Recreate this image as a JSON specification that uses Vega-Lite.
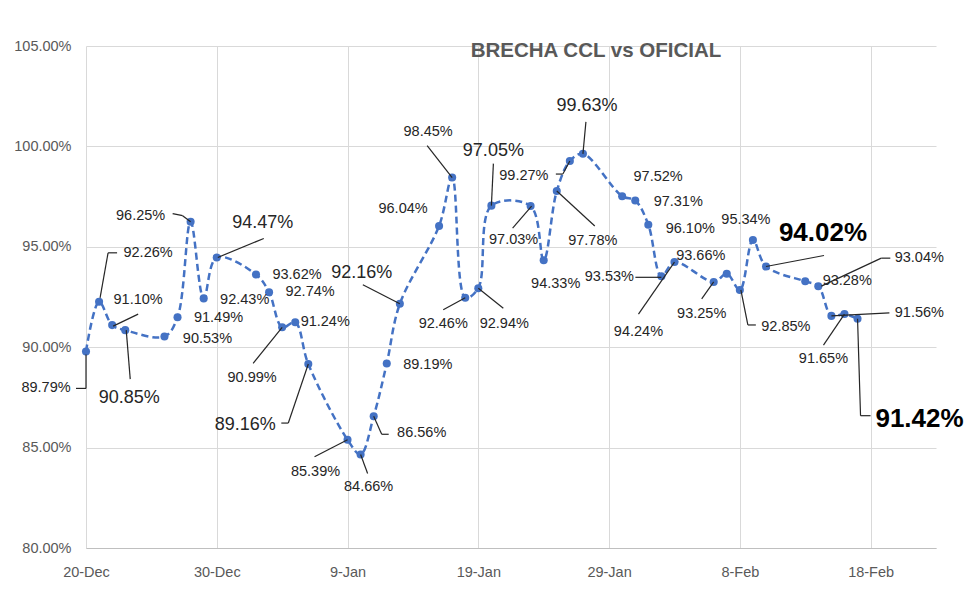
{
  "$schema": "https://vega.github.io/schema/vega-lite/v6.json",
  "width": 850,
  "height": 502,
  "autosize": "none",
  "padding": {"left": 86, "top": 46, "right": 44, "bottom": 49},
  "background": "white",
  "title": {"text": "BRECHA CCL vs OFICIAL", "anchor": "middle", "frame": "group", "dx": 85, "offset": -33, "baseline": "middle", "font": "Liberation Sans", "fontSize": 20.5, "fontWeight": "bold", "color": "#595959"},
  "data": {"values": [
    {"d": "2022-12-20", "v": 0.8979},
    {"d": "2022-12-21", "v": 0.9226},
    {"d": "2022-12-22", "v": 0.9110},
    {"d": "2022-12-23", "v": 0.9085},
    {"d": "2022-12-26", "v": 0.9053},
    {"d": "2022-12-27", "v": 0.9149},
    {"d": "2022-12-28", "v": 0.9625},
    {"d": "2022-12-29", "v": 0.9243},
    {"d": "2022-12-30", "v": 0.9447},
    {"d": "2023-01-02", "v": 0.9362},
    {"d": "2023-01-03", "v": 0.9274},
    {"d": "2023-01-04", "v": 0.9099},
    {"d": "2023-01-05", "v": 0.9124},
    {"d": "2023-01-06", "v": 0.8916},
    {"d": "2023-01-09", "v": 0.8539},
    {"d": "2023-01-10", "v": 0.8466},
    {"d": "2023-01-11", "v": 0.8656},
    {"d": "2023-01-12", "v": 0.8919},
    {"d": "2023-01-13", "v": 0.9216},
    {"d": "2023-01-16", "v": 0.9604},
    {"d": "2023-01-17", "v": 0.9845},
    {"d": "2023-01-18", "v": 0.9246},
    {"d": "2023-01-19", "v": 0.9294},
    {"d": "2023-01-20", "v": 0.9705},
    {"d": "2023-01-23", "v": 0.9703},
    {"d": "2023-01-24", "v": 0.9433},
    {"d": "2023-01-25", "v": 0.9778},
    {"d": "2023-01-26", "v": 0.9927},
    {"d": "2023-01-27", "v": 0.9963},
    {"d": "2023-01-30", "v": 0.9752},
    {"d": "2023-01-31", "v": 0.9731},
    {"d": "2023-02-01", "v": 0.9610},
    {"d": "2023-02-02", "v": 0.9353},
    {"d": "2023-02-03", "v": 0.9424},
    {"d": "2023-02-06", "v": 0.9325},
    {"d": "2023-02-07", "v": 0.9366},
    {"d": "2023-02-08", "v": 0.9285},
    {"d": "2023-02-09", "v": 0.9534},
    {"d": "2023-02-10", "v": 0.9402},
    {"d": "2023-02-13", "v": 0.9328},
    {"d": "2023-02-14", "v": 0.9304},
    {"d": "2023-02-15", "v": 0.9156},
    {"d": "2023-02-16", "v": 0.9165},
    {"d": "2023-02-17", "v": 0.9142}
  ]},
  "encoding": {
    "x": {"field": "d", "type": "temporal",
      "scale": {"type": "utc", "domain": [{"year": 2022, "month": 12, "date": 20, "utc": true}, {"year": 2023, "month": 2, "date": 23, "utc": true}]},
      "axis": {"title": null, "format": "%-d-%b", "labelFlush": false, "labelOverlap": false,
        "values": [{"year": 2022, "month": 12, "date": 20, "utc": true}, {"year": 2022, "month": 12, "date": 30, "utc": true}, {"year": 2023, "month": 1, "date": 9, "utc": true}, {"year": 2023, "month": 1, "date": 19, "utc": true}, {"year": 2023, "month": 1, "date": 29, "utc": true}, {"year": 2023, "month": 2, "date": 8, "utc": true}, {"year": 2023, "month": 2, "date": 18, "utc": true}],
        "grid": true, "ticks": false, "domainColor": "#bfbfbf", "labelPadding": 17}},
    "y": {"field": "v", "type": "quantitative",
      "scale": {"domain": [0.8, 1.05], "nice": false, "zero": false},
      "axis": {"title": null, "format": ".2%", "values": [0.8, 0.85, 0.9, 0.95, 1.0, 1.05], "domain": false, "ticks": false, "labelPadding": 15}}
  },
  "layer": [
    {"mark": {"type": "line", "interpolate": "catmull-rom", "color": "#4472C4", "strokeWidth": 2.5, "strokeDash": [7, 4]}},
    {"mark": {"type": "circle", "size": 65, "color": "#4472C4", "opacity": 1}},
    {"transform": [{"filter": "datum.v==0.8979"}], "layer": [
      {"mark": {"type": "text", "dx": -40, "dy": 37}, "encoding": {"text": {"field": "v", "format": ".2%"}}},
      {"mark": {"type": "rule", "xOffset": 0, "yOffset": 3, "x2Offset": 0, "y2Offset": 37}, "encoding": {"x2": {"field": "d"}, "y2": {"field": "v"}}},
      {"mark": {"type": "rule", "xOffset": 0, "yOffset": 37, "x2Offset": -10, "y2Offset": 37}, "encoding": {"x2": {"field": "d"}, "y2": {"field": "v"}}}
    ]},
    {"transform": [{"filter": "datum.v==0.9226"}], "layer": [
      {"mark": {"type": "text", "dx": 49, "dy": -49}, "encoding": {"text": {"field": "v", "format": ".2%"}}},
      {"mark": {"type": "rule", "xOffset": 1, "yOffset": -4, "x2Offset": 9, "y2Offset": -49}, "encoding": {"x2": {"field": "d"}, "y2": {"field": "v"}}},
      {"mark": {"type": "rule", "xOffset": 9, "yOffset": -49, "x2Offset": 18, "y2Offset": -49}, "encoding": {"x2": {"field": "d"}, "y2": {"field": "v"}}}
    ]},
    {"transform": [{"filter": "datum.v==0.9110"}], "layer": [
      {"mark": {"type": "text", "dx": 26, "dy": -25}, "encoding": {"text": {"field": "v", "format": ".2%"}}},
      {"mark": {"type": "rule", "xOffset": 1, "yOffset": 1, "x2Offset": 26, "y2Offset": -11}, "encoding": {"x2": {"field": "d"}, "y2": {"field": "v"}}}
    ]},
    {"transform": [{"filter": "datum.v==0.9085"}], "layer": [
      {"mark": {"type": "text", "dx": 4, "dy": 68, "fontSize": 18}, "encoding": {"text": {"field": "v", "format": ".2%"}}},
      {"mark": {"type": "rule", "xOffset": 1, "yOffset": 0, "x2Offset": 5, "y2Offset": 49}, "encoding": {"x2": {"field": "d"}, "y2": {"field": "v"}}}
    ]},
    {"transform": [{"filter": "datum.v==0.9053"}], "mark": {"type": "text", "dx": 43, "dy": 2}, "encoding": {"text": {"field": "v", "format": ".2%"}}},
    {"transform": [{"filter": "datum.v==0.9149"}], "mark": {"type": "text", "dx": 41, "dy": 1}, "encoding": {"text": {"field": "v", "format": ".2%"}}},
    {"transform": [{"filter": "datum.v==0.9625"}], "layer": [
      {"mark": {"type": "text", "dx": -50, "dy": -6}, "encoding": {"text": {"field": "v", "format": ".2%"}}},
      {"mark": {"type": "rule", "xOffset": -18, "yOffset": -8, "x2Offset": -8, "y2Offset": -6}, "encoding": {"x2": {"field": "d"}, "y2": {"field": "v"}}},
      {"mark": {"type": "rule", "xOffset": -8, "yOffset": -6, "x2Offset": 0, "y2Offset": 0}, "encoding": {"x2": {"field": "d"}, "y2": {"field": "v"}}}
    ]},
    {"transform": [{"filter": "datum.v==0.9243"}], "mark": {"type": "text", "dx": 41, "dy": 2}, "encoding": {"text": {"field": "v", "format": ".2%"}}},
    {"transform": [{"filter": "datum.v==0.9447"}], "layer": [
      {"mark": {"type": "text", "dx": 46, "dy": -34, "fontSize": 18}, "encoding": {"text": {"field": "v", "format": ".2%"}}},
      {"mark": {"type": "rule", "xOffset": 1, "yOffset": 0, "x2Offset": 47, "y2Offset": -19}, "encoding": {"x2": {"field": "d"}, "y2": {"field": "v"}}}
    ]},
    {"transform": [{"filter": "datum.v==0.9362"}], "mark": {"type": "text", "dx": 41, "dy": 0}, "encoding": {"text": {"field": "v", "format": ".2%"}}},
    {"transform": [{"filter": "datum.v==0.9274"}], "mark": {"type": "text", "dx": 41, "dy": 0}, "encoding": {"text": {"field": "v", "format": ".2%"}}},
    {"transform": [{"filter": "datum.v==0.9099"}], "layer": [
      {"mark": {"type": "text", "dx": -30, "dy": 51}, "encoding": {"text": {"field": "v", "format": ".2%"}}},
      {"mark": {"type": "rule", "xOffset": -29, "yOffset": 36, "x2Offset": 0, "y2Offset": 0}, "encoding": {"x2": {"field": "d"}, "y2": {"field": "v"}}}
    ]},
    {"transform": [{"filter": "datum.v==0.9124"}], "mark": {"type": "text", "dx": 30, "dy": 0}, "encoding": {"text": {"field": "v", "format": ".2%"}}},
    {"transform": [{"filter": "datum.v==0.8916"}], "layer": [
      {"mark": {"type": "text", "dx": -63, "dy": 61, "fontSize": 18}, "encoding": {"text": {"field": "v", "format": ".2%"}}},
      {"mark": {"type": "rule", "xOffset": -27, "yOffset": 59, "x2Offset": -20, "y2Offset": 59}, "encoding": {"x2": {"field": "d"}, "y2": {"field": "v"}}},
      {"mark": {"type": "rule", "xOffset": -20, "yOffset": 59, "x2Offset": 0, "y2Offset": 0}, "encoding": {"x2": {"field": "d"}, "y2": {"field": "v"}}}
    ]},
    {"transform": [{"filter": "datum.v==0.8539"}], "layer": [
      {"mark": {"type": "text", "dx": -32, "dy": 32}, "encoding": {"text": {"field": "v", "format": ".2%"}}},
      {"mark": {"type": "rule", "xOffset": -33, "yOffset": 17, "x2Offset": 0, "y2Offset": 0}, "encoding": {"x2": {"field": "d"}, "y2": {"field": "v"}}}
    ]},
    {"transform": [{"filter": "datum.v==0.8466"}], "layer": [
      {"mark": {"type": "text", "dx": 8, "dy": 33}, "encoding": {"text": {"field": "v", "format": ".2%"}}},
      {"mark": {"type": "rule", "xOffset": 0, "yOffset": 0, "x2Offset": 7, "y2Offset": 19}, "encoding": {"x2": {"field": "d"}, "y2": {"field": "v"}}}
    ]},
    {"transform": [{"filter": "datum.v==0.8656"}], "layer": [
      {"mark": {"type": "text", "dx": 48, "dy": 17}, "encoding": {"text": {"field": "v", "format": ".2%"}}},
      {"mark": {"type": "rule", "xOffset": 0, "yOffset": 0, "x2Offset": 8, "y2Offset": 18}, "encoding": {"x2": {"field": "d"}, "y2": {"field": "v"}}},
      {"mark": {"type": "rule", "xOffset": 8, "yOffset": 18, "x2Offset": 15, "y2Offset": 18}, "encoding": {"x2": {"field": "d"}, "y2": {"field": "v"}}}
    ]},
    {"transform": [{"filter": "datum.v==0.8919"}], "mark": {"type": "text", "dx": 41, "dy": 2}, "encoding": {"text": {"field": "v", "format": ".2%"}}},
    {"transform": [{"filter": "datum.v==0.9216"}], "layer": [
      {"mark": {"type": "text", "dx": -38, "dy": -31, "fontSize": 18}, "encoding": {"text": {"field": "v", "format": ".2%"}}},
      {"mark": {"type": "rule", "xOffset": -37, "yOffset": -19, "x2Offset": 0, "y2Offset": 0}, "encoding": {"x2": {"field": "d"}, "y2": {"field": "v"}}}
    ]},
    {"transform": [{"filter": "datum.v==0.9604"}], "mark": {"type": "text", "dx": -36, "dy": -17}, "encoding": {"text": {"field": "v", "format": ".2%"}}},
    {"transform": [{"filter": "datum.v==0.9845"}], "layer": [
      {"mark": {"type": "text", "dx": -24, "dy": -46}, "encoding": {"text": {"field": "v", "format": ".2%"}}},
      {"mark": {"type": "rule", "xOffset": -25, "yOffset": -32, "x2Offset": 0, "y2Offset": 0}, "encoding": {"x2": {"field": "d"}, "y2": {"field": "v"}}}
    ]},
    {"transform": [{"filter": "datum.v==0.9246"}], "layer": [
      {"mark": {"type": "text", "dx": -22, "dy": 26}, "encoding": {"text": {"field": "v", "format": ".2%"}}},
      {"mark": {"type": "rule", "xOffset": -22, "yOffset": 12, "x2Offset": 0, "y2Offset": 0}, "encoding": {"x2": {"field": "d"}, "y2": {"field": "v"}}}
    ]},
    {"transform": [{"filter": "datum.v==0.9294"}], "layer": [
      {"mark": {"type": "text", "dx": 26, "dy": 36}, "encoding": {"text": {"field": "v", "format": ".2%"}}},
      {"mark": {"type": "rule", "xOffset": 0, "yOffset": 0, "x2Offset": 25, "y2Offset": 20}, "encoding": {"x2": {"field": "d"}, "y2": {"field": "v"}}}
    ]},
    {"transform": [{"filter": "datum.v==0.9705"}], "layer": [
      {"mark": {"type": "text", "dx": 2, "dy": -55, "fontSize": 18}, "encoding": {"text": {"field": "v", "format": ".2%"}}},
      {"mark": {"type": "rule", "xOffset": 2, "yOffset": -42, "x2Offset": 0, "y2Offset": 0}, "encoding": {"x2": {"field": "d"}, "y2": {"field": "v"}}}
    ]},
    {"transform": [{"filter": "datum.v==0.9703"}], "layer": [
      {"mark": {"type": "text", "dx": -17, "dy": 34}, "encoding": {"text": {"field": "v", "format": ".2%"}}},
      {"mark": {"type": "rule", "xOffset": -18, "yOffset": 22, "x2Offset": 1, "y2Offset": 0}, "encoding": {"x2": {"field": "d"}, "y2": {"field": "v"}}}
    ]},
    {"transform": [{"filter": "datum.v==0.9433"}], "mark": {"type": "text", "dx": 12, "dy": 24}, "encoding": {"text": {"field": "v", "format": ".2%"}}},
    {"transform": [{"filter": "datum.v==0.9778"}], "layer": [
      {"mark": {"type": "text", "dx": 36, "dy": 50}, "encoding": {"text": {"field": "v", "format": ".2%"}}},
      {"mark": {"type": "rule", "xOffset": 0, "yOffset": 0, "x2Offset": 38, "y2Offset": 35}, "encoding": {"x2": {"field": "d"}, "y2": {"field": "v"}}}
    ]},
    {"transform": [{"filter": "datum.v==0.9927"}], "layer": [
      {"mark": {"type": "text", "dx": -46, "dy": 15}, "encoding": {"text": {"field": "v", "format": ".2%"}}},
      {"mark": {"type": "rule", "xOffset": -14, "yOffset": 13, "x2Offset": -7, "y2Offset": 13}, "encoding": {"x2": {"field": "d"}, "y2": {"field": "v"}}},
      {"mark": {"type": "rule", "xOffset": -7, "yOffset": 13, "x2Offset": 0, "y2Offset": 0}, "encoding": {"x2": {"field": "d"}, "y2": {"field": "v"}}}
    ]},
    {"transform": [{"filter": "datum.v==0.9963"}], "layer": [
      {"mark": {"type": "text", "dx": 4, "dy": -48, "fontSize": 18}, "encoding": {"text": {"field": "v", "format": ".2%"}}},
      {"mark": {"type": "rule", "xOffset": 3, "yOffset": -32, "x2Offset": 0, "y2Offset": 0}, "encoding": {"x2": {"field": "d"}, "y2": {"field": "v"}}}
    ]},
    {"transform": [{"filter": "datum.v==0.9752"}], "mark": {"type": "text", "dx": 36, "dy": -19}, "encoding": {"text": {"field": "v", "format": ".2%"}}},
    {"transform": [{"filter": "datum.v==0.9731"}], "mark": {"type": "text", "dx": 43, "dy": 2}, "encoding": {"text": {"field": "v", "format": ".2%"}}},
    {"transform": [{"filter": "datum.v==0.9610"}], "mark": {"type": "text", "dx": 42, "dy": 4}, "encoding": {"text": {"field": "v", "format": ".2%"}}},
    {"transform": [{"filter": "datum.v==0.9353"}], "layer": [
      {"mark": {"type": "text", "dx": -52, "dy": 1}, "encoding": {"text": {"field": "v", "format": ".2%"}}},
      {"mark": {"type": "rule", "xOffset": -26, "yOffset": 1, "x2Offset": 0, "y2Offset": 1}, "encoding": {"x2": {"field": "d"}, "y2": {"field": "v"}}}
    ]},
    {"transform": [{"filter": "datum.v==0.9424"}], "layer": [
      {"mark": {"type": "text", "dx": -36, "dy": 70}, "encoding": {"text": {"field": "v", "format": ".2%"}}},
      {"mark": {"type": "rule", "xOffset": -36, "yOffset": 52, "x2Offset": 0, "y2Offset": 0}, "encoding": {"x2": {"field": "d"}, "y2": {"field": "v"}}}
    ]},
    {"transform": [{"filter": "datum.v==0.9325"}], "layer": [
      {"mark": {"type": "text", "dx": -12, "dy": 32}, "encoding": {"text": {"field": "v", "format": ".2%"}}},
      {"mark": {"type": "rule", "xOffset": -12, "yOffset": 17, "x2Offset": 0, "y2Offset": 0}, "encoding": {"x2": {"field": "d"}, "y2": {"field": "v"}}}
    ]},
    {"transform": [{"filter": "datum.v==0.9366"}], "mark": {"type": "text", "dx": -26, "dy": -18}, "encoding": {"text": {"field": "v", "format": ".2%"}}},
    {"transform": [{"filter": "datum.v==0.9285"}], "layer": [
      {"mark": {"type": "text", "dx": 46, "dy": 37}, "encoding": {"text": {"field": "v", "format": ".2%"}}},
      {"mark": {"type": "rule", "xOffset": 1, "yOffset": 0, "x2Offset": 8, "y2Offset": 35}, "encoding": {"x2": {"field": "d"}, "y2": {"field": "v"}}},
      {"mark": {"type": "rule", "xOffset": 8, "yOffset": 35, "x2Offset": 16, "y2Offset": 35}, "encoding": {"x2": {"field": "d"}, "y2": {"field": "v"}}}
    ]},
    {"transform": [{"filter": "datum.v==0.9534"}], "mark": {"type": "text", "dx": -7, "dy": -20}, "encoding": {"text": {"field": "v", "format": ".2%"}}},
    {"transform": [{"filter": "datum.v==0.9402"}], "layer": [
      {"mark": {"type": "text", "dx": 57, "dy": -33, "fontSize": 26, "fontWeight": "bold", "color": "#000000"}, "encoding": {"text": {"field": "v", "format": ".2%"}}},
      {"mark": {"type": "rule", "xOffset": 0, "yOffset": 0, "x2Offset": 58, "y2Offset": -11}, "encoding": {"x2": {"field": "d"}, "y2": {"field": "v"}}}
    ]},
    {"transform": [{"filter": "datum.v==0.9328"}], "mark": {"type": "text", "dx": 42, "dy": 0}, "encoding": {"text": {"field": "v", "format": ".2%"}}},
    {"transform": [{"filter": "datum.v==0.9304"}], "layer": [
      {"mark": {"type": "text", "dx": 101, "dy": -28}, "encoding": {"text": {"field": "v", "format": ".2%"}}},
      {"mark": {"type": "rule", "xOffset": 3, "yOffset": 0, "x2Offset": 63, "y2Offset": -28}, "encoding": {"x2": {"field": "d"}, "y2": {"field": "v"}}},
      {"mark": {"type": "rule", "xOffset": 63, "yOffset": -28, "x2Offset": 72, "y2Offset": -28}, "encoding": {"x2": {"field": "d"}, "y2": {"field": "v"}}}
    ]},
    {"transform": [{"filter": "datum.v==0.9156"}], "layer": [
      {"mark": {"type": "text", "dx": 88, "dy": -3}, "encoding": {"text": {"field": "v", "format": ".2%"}}},
      {"mark": {"type": "rule", "xOffset": 0, "yOffset": 0, "x2Offset": 58, "y2Offset": -3}, "encoding": {"x2": {"field": "d"}, "y2": {"field": "v"}}}
    ]},
    {"transform": [{"filter": "datum.v==0.9165"}], "layer": [
      {"mark": {"type": "text", "dx": -21, "dy": 45}, "encoding": {"text": {"field": "v", "format": ".2%"}}},
      {"mark": {"type": "rule", "xOffset": -21, "yOffset": 31, "x2Offset": 0, "y2Offset": 0}, "encoding": {"x2": {"field": "d"}, "y2": {"field": "v"}}}
    ]},
    {"transform": [{"filter": "datum.v==0.9142"}], "layer": [
      {"mark": {"type": "text", "dx": 62, "dy": 100, "fontSize": 26, "fontWeight": "bold", "color": "#000000"}, "encoding": {"text": {"field": "v", "format": ".2%"}}},
      {"mark": {"type": "rule", "xOffset": 0, "yOffset": 0, "x2Offset": 3, "y2Offset": 97}, "encoding": {"x2": {"field": "d"}, "y2": {"field": "v"}}},
      {"mark": {"type": "rule", "xOffset": 3, "yOffset": 97, "x2Offset": 13, "y2Offset": 97}, "encoding": {"x2": {"field": "d"}, "y2": {"field": "v"}}}
    ]}
  ],
  "config": {
    "view": {"stroke": null},
    "font": "Liberation Sans",
    "axis": {"labelFont": "Liberation Sans", "labelFontSize": 14.5, "labelColor": "#595959", "gridColor": "#d9d9d9", "gridWidth": 1},
    "text": {"font": "Liberation Sans", "fontSize": 14.5, "color": "#262626", "baseline": "middle", "align": "center"},
    "rule": {"color": "#262626", "strokeWidth": 1.2}
  }
}
